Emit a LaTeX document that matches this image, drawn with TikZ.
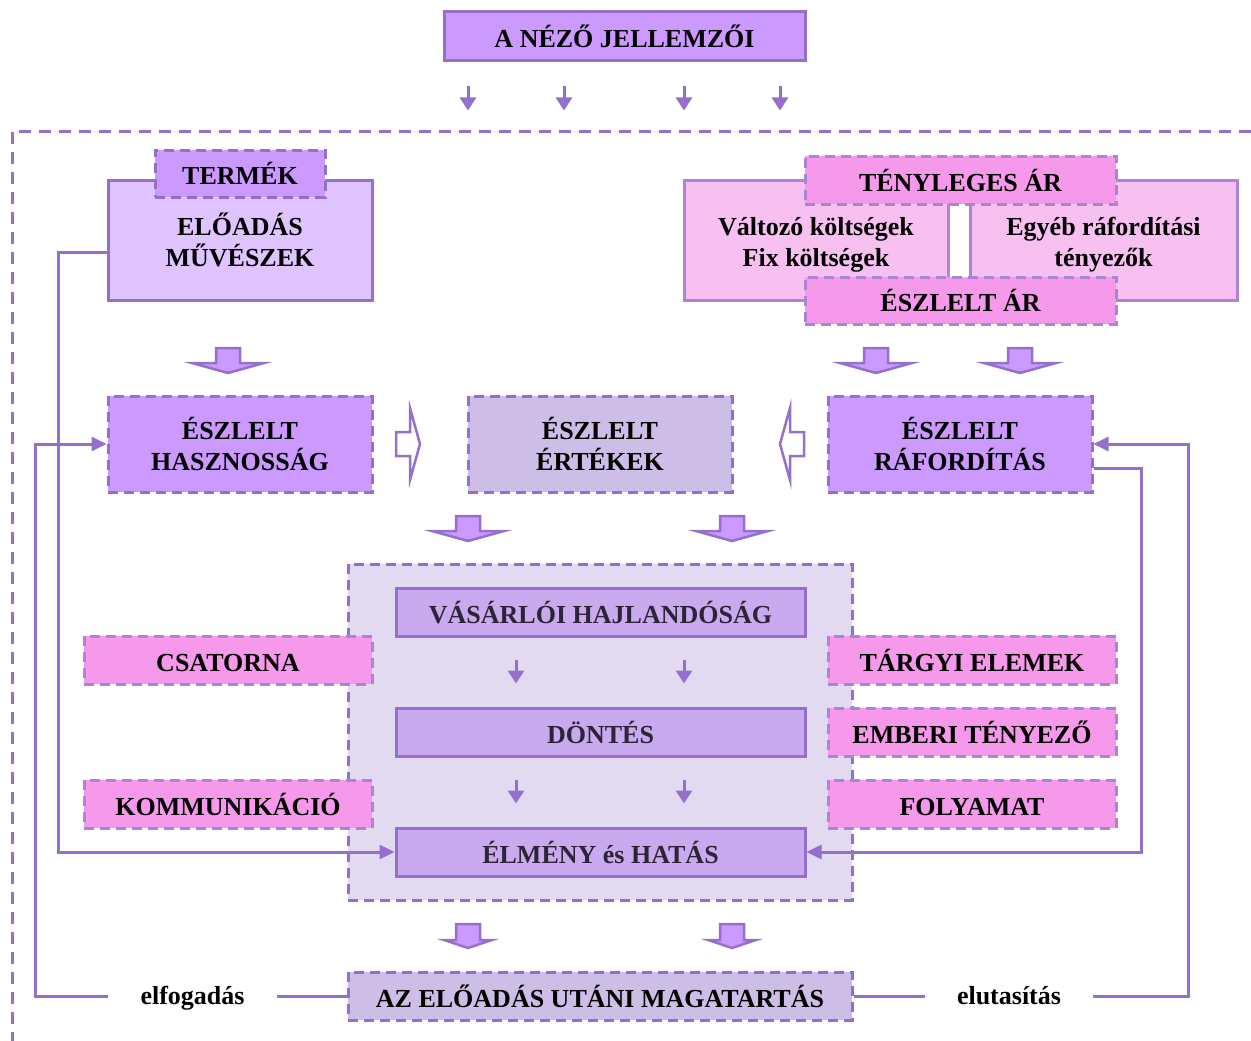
\documentclass[tikz,border=0pt]{standalone}
\usepackage{fontspec}
\setmainfont{Liberation Serif}
\usetikzlibrary{arrows.meta,calc}

\definecolor{lineP}{HTML}{9470CC}
\definecolor{lav}{HTML}{CC99FF}
\definecolor{lavL}{HTML}{E0C4FF}
\definecolor{valP}{HTML}{CEBDE6}
\definecolor{panelP}{HTML}{E2DAF0}
\definecolor{barP}{HTML}{C9AAEE}
\definecolor{pinkD}{HTML}{F799EB}
\definecolor{pinkL}{HTML}{F8C0F1}
\definecolor{pinkB}{HTML}{A985D8}
\definecolor{barText}{HTML}{2E2438}

\tikzset{
  box/.style={draw=lineP, line width=3pt, inner sep=0pt, align=center},
  oneline/.style={text height=24pt, text depth=2pt},
  dbox/.style={box, dash pattern=on 10pt off 6pt},
  pinkbox/.style={dbox, oneline, draw=pinkB, fill=pinkD},
  barbox/.style={box, oneline, fill=barP, text=barText, minimum width=409pt, minimum height=48pt},
  conn/.style={draw=lineP, line width=3pt},
  connarrow/.style={conn, -{Triangle[length=15pt,width=14pt]}},
  smallarrow/.style={conn, -{Triangle[length=13pt,width=16pt]}},
  blk/.style={draw=lineP, line width=2.5pt, fill=lav, line join=miter},
  blkdown/.pic={\path[blk] (-12,0) -- (12,0) -- (12,15) -- (36,15) -- (0,25)
      -- (-36,15) -- (-12,15) -- cycle;},
  blkdownsmall/.pic={\path[blk] (-12,0) -- (12,0) -- (12,16) -- (24,16) -- (0,24)
      -- (-24,16) -- (-12,16) -- cycle;},
  blkright/.pic={\path[blk, fill=white] (0,-12) -- (14,-12) -- (14,-36) -- (24,0)
      -- (14,36) -- (14,12) -- (0,12) -- cycle;},
  blkleft/.pic={\path[blk, fill=white] (0,-12) -- (-14,-12) -- (-14,-36) -- (-24,0)
      -- (-14,36) -- (-14,12) -- (0,12) -- cycle;},
}

\begin{document}
\begin{tikzpicture}[x=1pt, y=-1pt, font=\fontsize{26}{31}\selectfont\bfseries]
\useasboundingbox (0,0) rectangle (1251,1041);

% viewer characteristics and the outer dashed frame
\node[box, oneline, fill=lav, minimum width=361pt, minimum height=49pt] (nezo) at (624.5,36.5) {A NÉZŐ JELLEMZŐI};
\foreach \dx in {-156.5,-60.5,59.5,155.5}
  \draw[smallarrow] ($(nezo.south)+(\dx,24)$) -- ++(0,24);
\draw[lineP, line width=3pt, dash pattern=on 12pt off 8pt] (1251,131) -- (12,131) -- (12,1041);

% product
\node[box, fill=lavL, minimum width=264pt, minimum height=120pt] (termek) at (240,240) {ELŐADÁS\\MŰVÉSZEK};
\node[dbox, oneline, fill=lav, minimum width=170pt, minimum height=47pt] (termekhead) at (240,173.5) {TERMÉK};

% price
\node[box, draw=pinkB, fill=pinkL, minimum width=264pt, minimum height=120pt] (koltseg) at (816,240) {};
\node[box, draw=pinkB, fill=pinkL, minimum width=267pt, minimum height=120pt] (egyeb) at (1103.5,240) {};
\node[align=center, inner sep=0pt] at ($(koltseg.center)+(0,5)$) {Változó költségek\\Fix költségek};
\node[align=center, inner sep=0pt] at ($(egyeb.center)+(0,5)$) {Egyéb ráfordítási\\tényezők};
\node[pinkbox, minimum width=311pt, minimum height=48pt] (teny) at (960.5,180) {TÉNYLEGES ÁR};
\node[pinkbox, minimum width=311pt, minimum height=47pt] (eszar) at (960.5,300.5) {ÉSZLELT ÁR};

\pic at (228,348) {blkdown};
\pic at (876,348) {blkdown};
\pic at (1020,348) {blkdown};

% perceived values row
\node[dbox, fill=lav, minimum width=264pt, minimum height=96pt] (hasz) at (240,444) {ÉSZLELT\\HASZNOSSÁG};
\node[dbox, fill=valP, minimum width=264pt, minimum height=96pt] (ertek) at (600,444) {ÉSZLELT\\ÉRTÉKEK};
\node[dbox, fill=lav, minimum width=264pt, minimum height=96pt] (rafo) at (960,444) {ÉSZLELT\\RÁFORDÍTÁS};

\pic at (396,444) {blkright};
\pic at (804,444) {blkleft};
\pic at (468,516) {blkdown};
\pic at (732,516) {blkdown};

% decision process panel
\node[dbox, fill=panelP, minimum width=504pt, minimum height=336pt] (panel) at (600,732) {};
\node[barbox] (vas) at (600.5,612) {VÁSÁRLÓI HAJLANDÓSÁG};
\node[barbox] (dont) at (600.5,732) {DÖNTÉS};
\node[barbox] (elm) at (600.5,852) {ÉLMÉNY és HATÁS};
\foreach \dx in {-84.5,83.5} {
  \draw[smallarrow] ($(vas.south)+(\dx,22)$) -- ++(0,24);
  \draw[smallarrow] ($(dont.south)+(\dx,22)$) -- ++(0,24);
}

% marketing mix elements
\node[pinkbox, minimum width=288pt, minimum height=48pt] (csat) at (228,660) {CSATORNA};
\node[pinkbox, minimum width=288pt, minimum height=48pt] (komm) at (228,804) {KOMMUNIKÁCIÓ};
\node[pinkbox, minimum width=288pt, minimum height=48pt] (targy) at (972,660) {TÁRGYI ELEMEK};
\node[pinkbox, minimum width=288pt, minimum height=48pt] (emb) at (972,732) {EMBERI TÉNYEZŐ};
\node[pinkbox, minimum width=288pt, minimum height=48pt] (foly) at (972,804) {FOLYAMAT};

% post-performance behaviour
\pic at (468,924) {blkdownsmall};
\pic at (732,924) {blkdownsmall};
\node[dbox, oneline, fill=valP, minimum width=504pt, minimum height=48pt] (magat) at (600,996) {AZ ELŐADÁS UTÁNI MAGATARTÁS};
\node[inner sep=0pt, minimum width=169pt, minimum height=30pt] (elfog) at (192.5,998) {elfogadás};
\node[inner sep=0pt, minimum width=168pt, minimum height=30pt] (eluta) at (1009,996) {elutasítás};

% feedback connectors
\draw[connarrow] ($(termek.west)+(0,12)$) -- ++(-48,0) |- (elm.west);
\draw[connarrow] ($(rafo.east)+(0,24)$) -- ++(48,0) |- (elm.east);
\draw[conn] (magat.west) -- (elfog.east |- magat.west);
\draw[connarrow] (elfog.west |- magat.west) -- ++(-72,0) |- (hasz.west);
\draw[conn] (magat.east) -- (eluta.west);
\draw[connarrow] (eluta.east) -- ++(95,0) |- (rafo.east);
\end{tikzpicture}
\end{document}
